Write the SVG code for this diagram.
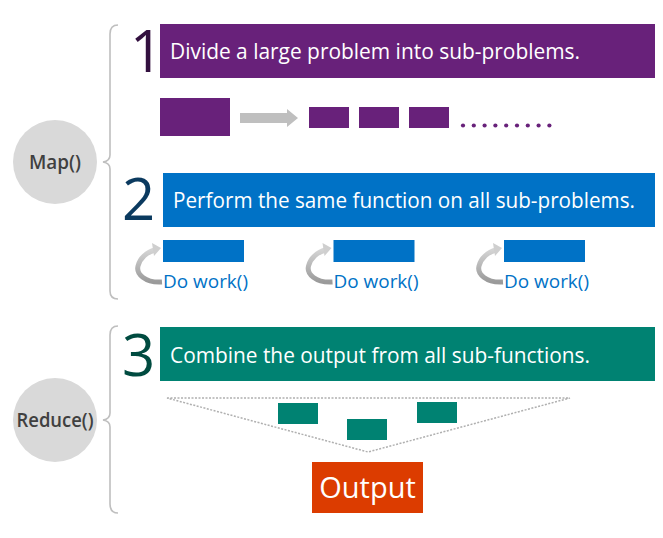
<svg xmlns="http://www.w3.org/2000/svg" width="663" height="538" viewBox="0 0 663 538">
<style>
.t{font-family:"Open Sans","Noto Sans","Liberation Sans",sans-serif;fill:#fff}
.num{font-family:"Open Sans","Noto Sans","Liberation Sans",sans-serif;font-size:58px;font-weight:400}
.lab{font-family:"Open Sans","Noto Sans","Liberation Sans",sans-serif;font-size:19px;font-weight:600;fill:#404040;text-anchor:middle}
.dw{font-family:"Open Sans","Noto Sans","Liberation Sans",sans-serif;font-size:19px;fill:#0072c6}
.brace{fill:none;stroke:#bfbfbf;stroke-width:1.6}
.circ{fill:#d9d9d9}
.pur{fill:#68217a}
.blu{fill:#0072c6}
.tea{fill:#008272}
</style>
<defs>
<linearGradient id="g" x1="0" y1="0" x2="0" y2="1">
<stop offset="0" stop-color="#d4d4d4"/>
<stop offset="1" stop-color="#9a9a9a"/>
</linearGradient>
<g id="curl">
<path d="M-1,42 C-18,43 -27,34 -25,26 C-23,18 -16,12 -8,10" fill="none" stroke="url(#g)" stroke-width="5"/>
<polygon points="-11,3 -2,8 -9,16" fill="#cfcfcf"/>
</g>
</defs>

<g id="map">
<circle class="circ" cx="55" cy="162" r="42"/>
<text class="lab" x="55" y="169" textLength="52" lengthAdjust="spacingAndGlyphs">Map()</text>
<path class="brace" d="M118,25 Q110,25 110,34 L110,155 Q110,161 103,162 Q110,163 110,169 L110,291 Q110,299 118,299"/>
</g>

<g id="reduce">
<circle class="circ" cx="55" cy="420" r="42"/>
<text class="lab" x="55" y="427" textLength="77" lengthAdjust="spacingAndGlyphs">Reduce()</text>
<path class="brace" d="M118,326 Q110,326 110,335 L110,413 Q110,419 103,420 Q110,421 110,427 L110,504 Q110,513 118,513"/>
</g>

<g id="step1">
<text class="num" x="130" y="72" fill="#33103f">1</text>
<rect class="pur" x="160" y="24" width="495" height="54"/>
<text class="t" x="170" y="59" font-size="21.5" textLength="410" lengthAdjust="spacingAndGlyphs">Divide a large problem into sub-problems.</text>
</g>

<g id="split">
<rect class="pur" x="160" y="98" width="70" height="38"/>
<polygon points="240,113 287,113 287,109 298,118 287,127 287,123 240,123" fill="#bfbfbf"/>
<rect class="pur" x="309" y="107" width="40" height="21"/>
<rect class="pur" x="359" y="107" width="40" height="21"/>
<rect class="pur" x="409" y="107" width="40" height="21"/>
<g fill="#68217a">
<circle cx="463" cy="125.5" r="2.1"/><circle cx="473.8" cy="125.5" r="2.1"/><circle cx="484.6" cy="125.5" r="2.1"/><circle cx="495.4" cy="125.5" r="2.1"/><circle cx="506.2" cy="125.5" r="2.1"/><circle cx="517" cy="125.5" r="2.1"/><circle cx="527.8" cy="125.5" r="2.1"/><circle cx="538.6" cy="125.5" r="2.1"/><circle cx="549.4" cy="125.5" r="2.1"/>
</g>
</g>

<g id="step2">
<text class="num" x="122" y="220" fill="#0b3a5f">2</text>
<rect class="blu" x="163" y="173" width="492" height="54"/>
<text class="t" x="173" y="208" font-size="21.5" textLength="462" lengthAdjust="spacingAndGlyphs">Perform the same function on all sub-problems.</text>
</g>

<g id="work1">
<use href="#curl" x="163" y="240"/>
<rect class="blu" x="163" y="240" width="81" height="22"/>
<text class="dw" x="163" y="288" textLength="85" lengthAdjust="spacingAndGlyphs">Do work()</text>
</g>
<g id="work2">
<use href="#curl" x="333.5" y="240"/>
<rect class="blu" x="333.5" y="240" width="81" height="22"/>
<text class="dw" x="333.5" y="288" textLength="85" lengthAdjust="spacingAndGlyphs">Do work()</text>
</g>
<g id="work3">
<use href="#curl" x="504" y="240"/>
<rect class="blu" x="504" y="240" width="81" height="22"/>
<text class="dw" x="504" y="288" textLength="85" lengthAdjust="spacingAndGlyphs">Do work()</text>
</g>

<g id="step3">
<text class="num" x="122" y="376" fill="#004b40">3</text>
<rect class="tea" x="160" y="327" width="495" height="54"/>
<text class="t" x="170" y="363" font-size="21.5" textLength="420" lengthAdjust="spacingAndGlyphs">Combine the output from all sub-functions.</text>
</g>

<g id="connectors">
<polygon points="167,398 570,398 368,452" fill="none" stroke="#b0b0b0" stroke-width="1.5" stroke-dasharray="2 1.5"/>
</g>

<g id="combine">
<rect class="tea" x="278" y="403" width="40" height="21"/>
<rect class="tea" x="347" y="419" width="40" height="21"/>
<rect class="tea" x="417" y="402" width="40" height="21"/>
</g>

<g id="output">
<rect x="312" y="462" width="111" height="51" fill="#dc3c00"/>
<text class="t" x="367.5" y="498" font-size="29" text-anchor="middle">Output</text>
</g>
</svg>
